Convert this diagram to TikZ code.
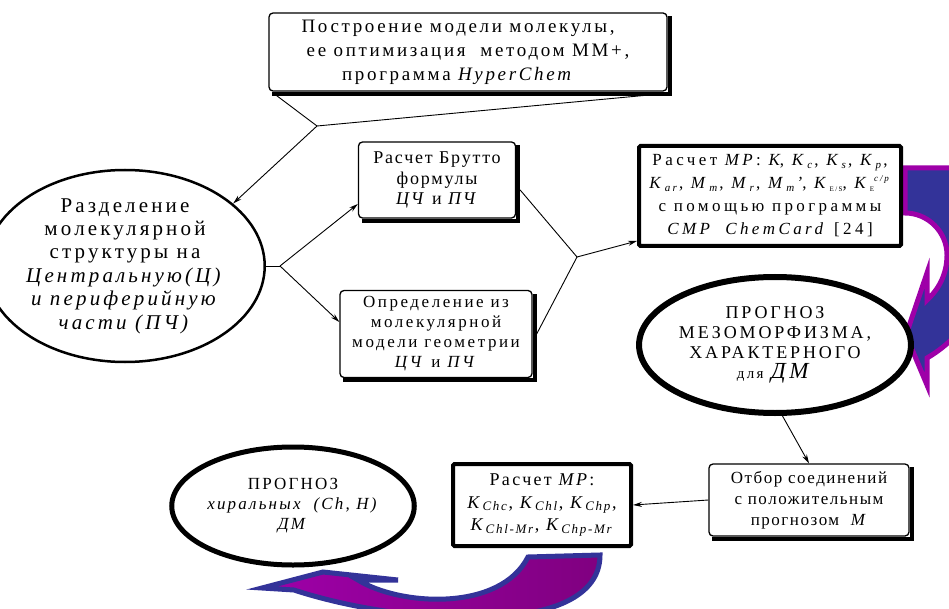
\documentclass[tikz,border=0pt]{standalone}
\usepackage{fontspec}
\setmainfont{Liberation Serif}[LetterSpace=13]
\usepackage{tikz}
\usetikzlibrary{arrows.meta, shapes}
\definecolor{arrblue}{HTML}{333399}
\definecolor{arrpurple}{HTML}{9E00A8}
\definecolor{arrplum}{HTML}{800080}
\newcommand{\lsub}[2][11]{\raisebox{-0.35ex}{\fontsize{#1}{#1}\selectfont #2}}
\newcommand{\lsup}[2][9]{\raisebox{0.9ex}{\fontsize{#1}{#1}\selectfont #2}}

\begin{document}
\begin{tikzpicture}[x=1pt, y=-1pt, >={Stealth[length=9pt, width=5pt]}, every node/.style={font=\fontsize{17}{20}\selectfont}]
            % styles: shadowed boxes, thick boxes, ovals
            \tikzset{
                rbox/.style={draw, rounded corners=4pt, line width=1.3pt, fill=white, align=center, inner sep=0pt},
                tbox/.style={draw, rounded corners=1.5pt, line width=4pt, fill=white, align=center, inner sep=0pt},
                oval/.style={ellipse, draw, fill=white, align=center, inner sep=0pt},
                shadowline/.style={draw=black, line width=4pt, line join=miter},
                conn/.style={line width=0.9pt}
            }
            \useasboundingbox (0,0) rectangle (949,609);
            % curved block arrows
            \draw[draw=arrpurple, fill=arrblue, line width=5pt, line join=miter]
                (905,168) -- (965,168) .. controls (1015,180) and (1010,310) .. (927,358)
                -- (927,385) -- (906,335) -- (927,273) -- (927,300)
                .. controls (938,290) and (947,275) .. (947,255)
                .. controls (947,232) and (928,213) .. (905,213) -- cycle;
            \draw[draw=arrblue, line width=5pt, line join=miter, left color=arrpurple, right color=arrplum]
                (528,557) -- (600,555) .. controls (600,640) and (400,625) .. (294,590)
                -- (262,588) -- (323,572) -- (398,580) -- (358,580)
                .. controls (400,606) and (500,612) .. (528,557) -- cycle;
            % nodes
            \node[rbox, minimum width=398pt, minimum height=78pt, font=\fontsize{19}{24}\selectfont\addfontfeatures{LetterSpace=14}] (model) at (468,52)
                {Построение модели молекулы,\hspace*{20pt}\\ее оптимизация\ \ методом ММ+,\hspace*{20pt}\\программа \textit{HyperChem}\hspace*{20pt}};
            \node[oval, line width=2.5pt, minimum width=232pt, minimum height=192pt, font=\fontsize{21}{23.4}\selectfont\addfontfeatures{LetterSpace=15}] (parts) at (125,266)
                {Разделение\\молекулярной\\структуры на\\\textit{Центральную(Ц)}\\\textit{и периферийную}\\\textit{части (ПЧ)}};
            \node[rbox, minimum width=157pt, minimum height=76pt, font=\fontsize{18}{20.5}\selectfont\addfontfeatures{LetterSpace=10}] (brutto) at (437,180)
                {Расчет Брутто\\формулы\\\textit{ЦЧ} и \textit{ПЧ}};
            \node[rbox, minimum width=192pt, minimum height=87pt, font=\fontsize{17}{20}\selectfont\addfontfeatures{LetterSpace=15}] (geom) at (436,334)
                {Определение из\\молекулярной\\модели геометрии\\\textit{ЦЧ} и \textit{ПЧ}};
            \node[tbox, minimum width=262pt, minimum height=100pt, font=\fontsize{17}{23}\selectfont\addfontfeatures{LetterSpace=20}] (mp) at (770,196)
                {Расчет \textit{MP}: \textit{K}, \textit{K}\lsub{\textit{c}}, \textit{K}\lsub{\textit{s}}, \textit{K}\lsub{\textit{p}},\\
                 \textit{K}\lsub{\textit{ar}}, \textit{M}\lsub{\textit{m}}, \textit{M}\lsub{\textit{r}}, \textit{M}\lsub{\textit{m}}\textit{'}, \textit{K}\lsub[7]{E/S}, \textit{K}\lsub[7]{E}\lsup{\textit{c/p}}\\
                 с помощью программы\\\textit{CMP\ \ ChemCard} [24]};
            \node[oval, line width=6pt, minimum width=256pt, minimum height=136pt, font=\fontsize{18}{20}\selectfont\addfontfeatures{LetterSpace=16}] (meso) at (775,345)
                {ПРОГНОЗ\\МЕЗОМОРФИЗМА,\\ХАРАКТЕРНОГО\\{\fontsize{15}{20}\selectfont для}\ {\fontsize{23}{20}\selectfont\textit{ДМ}}};
            \node[rbox, minimum width=200pt, minimum height=72pt, font=\fontsize{17}{21}\selectfont\addfontfeatures{LetterSpace=9}] (select) at (809,500)
                {Отбор соединений\\с положительным\\прогнозом\ \ \textit{M}};
            \node[tbox, minimum width=178pt, minimum height=82pt, font=\fontsize{18}{22.5}\selectfont] (calcch) at (542,505)
                {Расчет \textit{MP}:\\
                 \textit{K}\lsub[13]{\textit{Chc}}, \textit{K}\lsub[13]{\textit{Chl}}, \textit{K}\lsub[13]{\textit{Chp}},\\
                 \textit{K}\lsub[13]{\textit{Chl-Mr}}, \textit{K}\lsub[13]{\textit{Chp-Mr}}};
            \node[oval, line width=5pt, minimum width=210pt, minimum height=118pt] (chiral) at (293,506)
                {ПРОГНОЗ\\\textit{хиральных\ \ (Ch, H)}\\\textit{ДМ}};
            % shadows along bottom and right of the rounded boxes
            \foreach \bx in {model, brutto, geom, select}
                \draw[shadowline] ([xshift=4pt, yshift=-2pt]\bx.south west) -- ([xshift=2pt, yshift=-2pt]\bx.south east)
                    -- ([xshift=2pt, yshift=-4pt]\bx.north east);
            % connectors
            \coordinate (topj) at (317,126);
            \coordinate (fork) at (280,266);
            \coordinate (join) at (577,257);
            \draw[conn] ([xshift=7pt, yshift=-3pt]model.south west) -- (topj);
            \draw[conn] ([xshift=-4pt, yshift=-2pt]model.south east) -- (topj);
            \draw[conn, ->] (topj) -- (parts.30);
            \draw[conn] (parts.east) -- (fork);
            \draw[conn, ->] (fork) -- ([yshift=-24pt]brutto.west);
            \draw[conn, ->] (fork) -- ([yshift=12pt]geom.west);
            \draw[conn] ([xshift=4pt, yshift=-10pt]brutto.east) -- (join);
            \draw[conn] ([xshift=4pt]geom.east) -- (join);
            \draw[conn, ->] (join) -- ([yshift=7pt]mp.south west);
            \draw[conn, ->] (meso.-84) -- (select.north);
            \draw[conn, ->] (select.west) -- (calcch.east);
        \end{tikzpicture}
\end{document}
